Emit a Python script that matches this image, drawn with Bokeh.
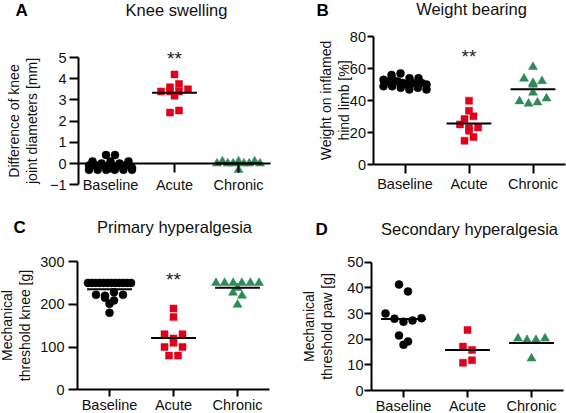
import numpy as np
from bokeh.plotting import figure
from bokeh.models import Label
from bokeh.layouts import column, row
from bokeh.embed import file_html
from bokeh.resources import INLINE

# ---------------- data ----------------
categories = ["Baseline", "Acute", "Chronic"]

swell_baseline = [0.4, 0.4, 0.1, 0.0, 0.1, 0.0, 0.1, -0.1, -0.1, -0.1,
                  -0.1, -0.1, -0.1, -0.2, -0.3, -0.3, -0.3, -0.3, -0.3, -0.3]
swell_acute = [4.2, 3.6, 3.75, 3.4, 3.4, 3.4, 3.5, 3.2, 2.4, 2.5]
swell_chronic = [0.0, 0.1, 0.0, 0.0, 0.1, 0.0, 0.0, 0.1, 0.0, -0.3]

weight_baseline = [56, 57, 54, 53, 52, 54, 53, 52, 51, 50,
                   51, 50, 49, 51, 50, 49, 48, 47, 48, 47]
weight_acute = [40, 33.7, 28.5, 30.2, 25.2, 22.9, 23.3, 21.2, 15, 17.3]
weight_chronic = [61, 53.7, 51, 52.2, 50, 45, 39.6, 38.1, 38.9, 41.4]

prim_baseline = [250, 250, 250, 250, 250, 250, 250, 250, 250, 250,
                 250, 250, 222, 220, 228, 222, 215, 209, 201, 180]
prim_acute = [130, 120, 130, 190, 170, 100, 110, 100, 80, 80]
prim_chronic = [250, 250, 250, 250, 250, 250, 238, 227, 220, 199]

sec_baseline = [41.3, 38.6, 30, 28, 26.8, 27.3, 28.2, 21.4, 17.8, 19.1]
sec_acute = [23.6, 17.1, 15.8, 10.8, 11.8]
sec_chronic = [20.3, 19.7, 19.7, 20.3, 12.5]

star_text = "**"
star_level = [4.95, 67.3, 257]   # anchor of "**" above Acute (A, B, C)

# ---------------- style ----------------
FONT = "Liberation Sans"
BLACK = "#000000"
TXT = "#111111"
RED = "#e2001a"
GREEN = "#2e8b57"
marker_kind = ["circle", "square", "triangle"]
marker_color = [BLACK, RED, GREEN]
marker_size = [8, 7, 9]


def swarm_offsets(vals, gap, spacing=9.0, max_width=43.0):
    n = len(vals)
    order = sorted(range(n), key=lambda i: -vals[i])
    rows, cur, start = [], [], None
    for i in order:
        if start is None or start - vals[i] > gap + 1e-9:
            if cur:
                rows.append(cur)
            cur, start = [], vals[i]
        cur.append(i)
    if cur:
        rows.append(cur)
    off = np.zeros(n)
    for r in rows:
        r = sorted(r)
        m = len(r)
        s = spacing if m < 2 else min(spacing, max_width / (m - 1))
        for k, i in enumerate(r):
            off[i] = (k - (m - 1) / 2.0) * s
    return off


def panel(W, H, px_l, px_r, py_b, py_t, ylim, yticks, ylabel,
          ytick_out, ytick_standoff, ylabel_standoff, xtick_out, xlabel_standoff,
          groups, gap, letter, letter_xy, title, title_xy, star=None):
    # map the data window onto the wanted pixel box; frame = whole canvas
    upx = 3.0 / (px_r - px_l)
    x0 = -0.5 - px_l * upx
    x1 = -0.5 + (W - px_l) * upx
    y_lo, y_hi = ylim
    upy = (y_hi - y_lo) / (py_b - py_t)
    y0 = y_lo - (H - py_b) * upy
    y1 = y_hi + py_t * upy

    def px2x(px):
        return x0 + px * upx

    def py2y(py):
        return y1 - py * upy

    p = figure(width=W, height=H, x_range=(x0, x1), y_range=(y0, y1),
               output_backend="svg", toolbar_location=None,
               min_border=0, min_border_left=0, min_border_right=0,
               min_border_top=0, min_border_bottom=0)
    p.outline_line_color = None
    p.xgrid.visible = False
    p.ygrid.visible = False

    for ax in (p.xaxis[0], p.yaxis[0]):
        ax.axis_line_width = 2
        ax.axis_line_color = BLACK
        ax.major_tick_line_width = 2
        ax.major_tick_line_color = BLACK
        ax.major_tick_in = 0
        ax.minor_tick_out = 0
        ax.minor_tick_in = 0
        ax.major_label_text_font = FONT
        ax.major_label_text_font_size = "14.5px"
        ax.major_label_text_color = TXT

    p.xaxis.ticker = [0, 1, 2]
    p.xaxis.major_label_overrides = {i: c for i, c in enumerate(categories)}
    p.xaxis.major_tick_out = xtick_out
    p.xaxis.major_label_standoff = xlabel_standoff
    p.xaxis.fixed_location = 0
    p.xaxis.bounds = (-0.5, 2.5)

    p.yaxis.ticker = yticks
    p.yaxis.fixed_location = -0.5
    p.yaxis.bounds = ylim
    p.yaxis.major_tick_out = ytick_out
    p.yaxis.major_label_standoff = ytick_standoff
    p.yaxis.axis_label = ylabel
    p.yaxis.axis_label_text_font = FONT
    p.yaxis.axis_label_text_font_style = "normal"
    p.yaxis.axis_label_text_font_size = "14px"
    p.yaxis.axis_label_text_color = TXT
    p.yaxis.axis_label_standoff = ylabel_standoff
    p.yaxis.axis_label_text_line_height = 1.15

    for i, vals in enumerate(groups):
        off = swarm_offsets(vals, gap)
        xs = i + off * upx
        p.scatter(xs, vals, marker=marker_kind[i], size=marker_size[i],
                  fill_color=marker_color[i], line_color=marker_color[i],
                  line_width=0.5)
    for i, vals in enumerate(groups):
        m = float(np.mean(vals))
        p.segment(x0=[i - 0.35], y0=[m], x1=[i + 0.35], y1=[m],
                  line_color=BLACK, line_width=2)

    if star is not None:
        p.add_layout(Label(x=1, y=star, text=star_text, text_align="center",
                           text_baseline="alphabetic", text_font=FONT,
                           text_font_size="19px", text_color="#222222"))

    p.add_layout(Label(x=px2x(letter_xy[0]), y=py2y(letter_xy[1]), text=letter,
                       text_align="left", text_baseline="alphabetic",
                       text_font=FONT, text_font_style="bold",
                       text_font_size="17px", text_color=BLACK))
    p.add_layout(Label(x=px2x(title_xy[0]), y=py2y(title_xy[1]), text=title,
                       text_align="center", text_baseline="alphabetic",
                       text_font=FONT, text_font_size="16.5px",
                       text_color=TXT))
    return p


pA = panel(283, 206, 78, 270, 184.2, 57, (-1, 5), [-1, 0, 1, 2, 3, 4, 5],
           "Difference of knee\njoint diameters [mm]", 9, 3, 7, 9, 4,
           [swell_baseline, swell_acute, swell_chronic], 0.19,
           "A", (15, 9.5), "Knee swelling", (176, 9.2), star=star_level[0])

pB = panel(283, 206, 89.5, 281.5, 164.3, 36, (0, 80), [0, 20, 40, 60, 80],
           "Weight on inflamed\nhind limb [%]", 6, 1, -5, 9, 2,
           [weight_baseline, weight_acute, weight_chronic], 3.4,
           "B", (33, 9.5), "Weight bearing", (188, 8), star=star_level[1])

pC = panel(283, 207, 77, 269, 183.3, 55, (0, 300), [0, 100, 200, 300],
           "Mechanical\nthreshold knee [g]", 9, 4, 4, 7, 0,
           [prim_baseline, prim_acute, prim_chronic], 10,
           "C", (13, 20.5), "Primary hyperalgesia", (174, 20.5),
           star=star_level[2])

pD = panel(283, 207, 88, 280, 184, 55.7, (0, 50), [0, 10, 20, 30, 40, 50],
           "Mechanical\nthreshold paw [g]", 7, 1, 9, 7, 0,
           [sec_baseline, sec_acute, sec_chronic], 3.2,
           "D", (32, 23), "Secondary hyperalgesia", (186, 22.5))

layout = row(column(pA, pC), column(pB, pD))
open("out.html", "w").write(file_html(layout, INLINE))
